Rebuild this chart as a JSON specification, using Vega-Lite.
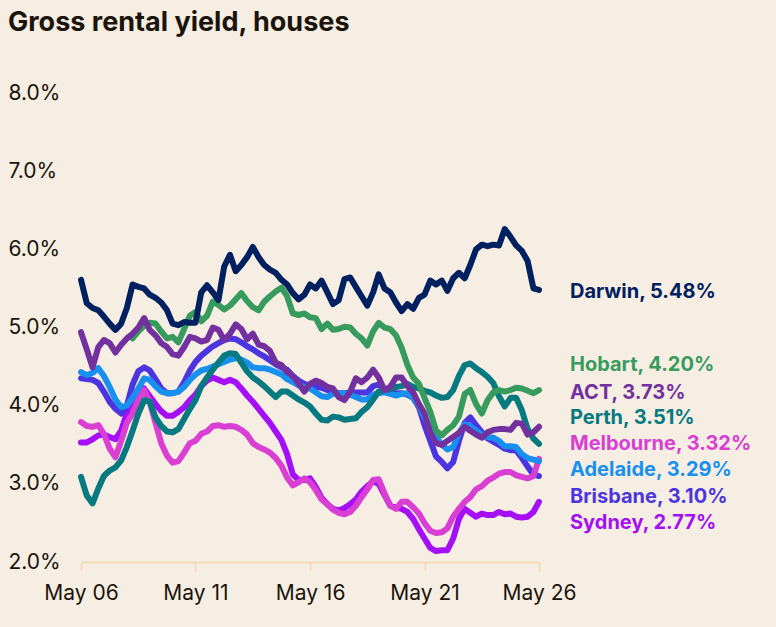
{
  "$schema": "https://vega.github.io/schema/vega-lite/v6.json",
  "width": 458,
  "height": 469,
  "autosize": {"type": "none"},
  "padding": {"left": 81, "top": 93, "right": 237, "bottom": 65},
  "background": "#f6eee2",
  "title": {
    "text": "Gross rental yield, houses",
    "anchor": "start",
    "fontSize": 27,
    "fontWeight": "bold",
    "font": "Inter",
    "color": "#1b140c",
    "baseline": "alphabetic",
    "offset": 24
  },
  "config": {
    "view": {"stroke": null},
    "font": "Inter",
    "axis": {"grid": false, "labelFont": "Inter", "labelColor": "#1b140c"}
  },
  "datasets": {
    "yields": [
      {"d": "2006-05-01", "Sydney": 3.53, "Brisbane": 4.35, "Melbourne": 3.79, "Adelaide": 4.43, "Perth": 3.09, "Hobart": null, "ACT": 4.94, "Darwin": 5.61},
      {"d": "2006-08-01", "Sydney": 3.53, "Brisbane": 4.34, "Melbourne": 3.74, "Adelaide": 4.39, "Perth": 2.85, "Hobart": null, "ACT": 4.72, "Darwin": 5.31},
      {"d": "2006-11-01", "Sydney": 3.57, "Brisbane": 4.33, "Melbourne": 3.73, "Adelaide": 4.42, "Perth": 2.75, "Hobart": null, "ACT": 4.49, "Darwin": 5.25},
      {"d": "2007-02-01", "Sydney": 3.62, "Brisbane": 4.29, "Melbourne": 3.75, "Adelaide": 4.48, "Perth": 2.94, "Hobart": null, "ACT": 4.75, "Darwin": 5.22},
      {"d": "2007-05-01", "Sydney": 3.63, "Brisbane": 4.18, "Melbourne": 3.64, "Adelaide": 4.38, "Perth": 3.10, "Hobart": null, "ACT": 4.84, "Darwin": 5.14},
      {"d": "2007-08-01", "Sydney": 3.60, "Brisbane": 4.05, "Melbourne": 3.45, "Adelaide": 4.24, "Perth": 3.17, "Hobart": null, "ACT": 4.80, "Darwin": 5.05},
      {"d": "2007-11-01", "Sydney": 3.57, "Brisbane": 3.96, "Melbourne": 3.34, "Adelaide": 4.08, "Perth": 3.21, "Hobart": null, "ACT": 4.68, "Darwin": 4.97},
      {"d": "2008-02-01", "Sydney": 3.68, "Brisbane": 3.90, "Melbourne": 3.55, "Adelaide": 3.98, "Perth": 3.30, "Hobart": null, "ACT": 4.78, "Darwin": 5.05},
      {"d": "2008-05-01", "Sydney": 3.90, "Brisbane": 4.00, "Melbourne": 3.78, "Adelaide": 4.00, "Perth": 3.47, "Hobart": null, "ACT": 4.86, "Darwin": 5.25},
      {"d": "2008-08-01", "Sydney": 4.05, "Brisbane": 4.27, "Melbourne": 3.90, "Adelaide": 4.10, "Perth": 3.68, "Hobart": 4.86, "ACT": 4.92, "Darwin": 5.55},
      {"d": "2008-11-01", "Sydney": 4.15, "Brisbane": 4.44, "Melbourne": 4.08, "Adelaide": 4.22, "Perth": 3.90, "Hobart": 4.95, "ACT": 5.00, "Darwin": 5.52},
      {"d": "2009-02-01", "Sydney": 4.22, "Brisbane": 4.49, "Melbourne": 4.20, "Adelaide": 4.35, "Perth": 4.07, "Hobart": 5.02, "ACT": 5.12, "Darwin": 5.50},
      {"d": "2009-05-01", "Sydney": 4.12, "Brisbane": 4.45, "Melbourne": 4.05, "Adelaide": 4.33, "Perth": 4.05, "Hobart": 5.06, "ACT": 4.97, "Darwin": 5.42},
      {"d": "2009-08-01", "Sydney": 4.02, "Brisbane": 4.34, "Melbourne": 3.78, "Adelaide": 4.25, "Perth": 3.85, "Hobart": 5.05, "ACT": 4.90, "Darwin": 5.38},
      {"d": "2009-11-01", "Sydney": 3.93, "Brisbane": 4.22, "Melbourne": 3.52, "Adelaide": 4.18, "Perth": 3.74, "Hobart": 4.95, "ACT": 4.80, "Darwin": 5.32},
      {"d": "2010-02-01", "Sydney": 3.87, "Brisbane": 4.16, "Melbourne": 3.36, "Adelaide": 4.16, "Perth": 3.67, "Hobart": 4.86, "ACT": 4.75, "Darwin": 5.22},
      {"d": "2010-05-01", "Sydney": 3.87, "Brisbane": 4.16, "Melbourne": 3.27, "Adelaide": 4.16, "Perth": 3.66, "Hobart": 4.88, "ACT": 4.66, "Darwin": 5.05},
      {"d": "2010-08-01", "Sydney": 3.92, "Brisbane": 4.18, "Melbourne": 3.29, "Adelaide": 4.18, "Perth": 3.70, "Hobart": 4.81, "ACT": 4.64, "Darwin": 5.03},
      {"d": "2010-11-01", "Sydney": 3.98, "Brisbane": 4.30, "Melbourne": 3.40, "Adelaide": 4.24, "Perth": 3.83, "Hobart": 4.98, "ACT": 4.75, "Darwin": 5.07},
      {"d": "2011-02-01", "Sydney": 4.07, "Brisbane": 4.45, "Melbourne": 3.52, "Adelaide": 4.33, "Perth": 3.96, "Hobart": 5.15, "ACT": 4.88, "Darwin": 5.06},
      {"d": "2011-05-01", "Sydney": 4.14, "Brisbane": 4.56, "Melbourne": 3.55, "Adelaide": 4.40, "Perth": 4.07, "Hobart": 5.20, "ACT": 4.86, "Darwin": 5.06},
      {"d": "2011-08-01", "Sydney": 4.25, "Brisbane": 4.64, "Melbourne": 3.64, "Adelaide": 4.45, "Perth": 4.25, "Hobart": 5.08, "ACT": 4.82, "Darwin": 5.45},
      {"d": "2011-11-01", "Sydney": 4.32, "Brisbane": 4.70, "Melbourne": 3.67, "Adelaide": 4.47, "Perth": 4.36, "Hobart": 5.15, "ACT": 4.84, "Darwin": 5.54},
      {"d": "2012-02-01", "Sydney": 4.36, "Brisbane": 4.76, "Melbourne": 3.74, "Adelaide": 4.50, "Perth": 4.46, "Hobart": 5.33, "ACT": 5.00, "Darwin": 5.45},
      {"d": "2012-05-01", "Sydney": 4.33, "Brisbane": 4.80, "Melbourne": 3.75, "Adelaide": 4.53, "Perth": 4.55, "Hobart": 5.29, "ACT": 4.97, "Darwin": 5.35},
      {"d": "2012-08-01", "Sydney": 4.30, "Brisbane": 4.84, "Melbourne": 3.73, "Adelaide": 4.56, "Perth": 4.64, "Hobart": 5.23, "ACT": 4.84, "Darwin": 5.78},
      {"d": "2012-11-01", "Sydney": 4.33, "Brisbane": 4.86, "Melbourne": 3.74, "Adelaide": 4.59, "Perth": 4.67, "Hobart": 5.28, "ACT": 4.92, "Darwin": 5.93},
      {"d": "2013-02-01", "Sydney": 4.30, "Brisbane": 4.85, "Melbourne": 3.73, "Adelaide": 4.61, "Perth": 4.66, "Hobart": 5.36, "ACT": 5.04, "Darwin": 5.72},
      {"d": "2013-05-01", "Sydney": 4.22, "Brisbane": 4.81, "Melbourne": 3.69, "Adelaide": 4.59, "Perth": 4.55, "Hobart": 5.44, "ACT": 4.98, "Darwin": 5.80},
      {"d": "2013-08-01", "Sydney": 4.13, "Brisbane": 4.76, "Melbourne": 3.63, "Adelaide": 4.55, "Perth": 4.44, "Hobart": 5.34, "ACT": 4.85, "Darwin": 5.90},
      {"d": "2013-11-01", "Sydney": 4.05, "Brisbane": 4.72, "Melbourne": 3.52, "Adelaide": 4.49, "Perth": 4.36, "Hobart": 5.26, "ACT": 4.92, "Darwin": 6.03},
      {"d": "2014-02-01", "Sydney": 3.96, "Brisbane": 4.67, "Melbourne": 3.47, "Adelaide": 4.48, "Perth": 4.31, "Hobart": 5.22, "ACT": 4.78, "Darwin": 5.90},
      {"d": "2014-05-01", "Sydney": 3.87, "Brisbane": 4.63, "Melbourne": 3.44, "Adelaide": 4.48, "Perth": 4.25, "Hobart": 5.33, "ACT": 4.76, "Darwin": 5.80},
      {"d": "2014-08-01", "Sydney": 3.78, "Brisbane": 4.58, "Melbourne": 3.40, "Adelaide": 4.46, "Perth": 4.18, "Hobart": 5.40, "ACT": 4.70, "Darwin": 5.74},
      {"d": "2014-11-01", "Sydney": 3.67, "Brisbane": 4.53, "Melbourne": 3.33, "Adelaide": 4.43, "Perth": 4.11, "Hobart": 5.46, "ACT": 4.55, "Darwin": 5.70},
      {"d": "2015-02-01", "Sydney": 3.56, "Brisbane": 4.49, "Melbourne": 3.23, "Adelaide": 4.40, "Perth": 4.18, "Hobart": 5.51, "ACT": 4.52, "Darwin": 5.61},
      {"d": "2015-05-01", "Sydney": 3.38, "Brisbane": 4.46, "Melbourne": 3.08, "Adelaide": 4.34, "Perth": 4.18, "Hobart": 5.40, "ACT": 4.43, "Darwin": 5.55},
      {"d": "2015-08-01", "Sydney": 3.12, "Brisbane": 4.38, "Melbourne": 2.98, "Adelaide": 4.30, "Perth": 4.13, "Hobart": 5.18, "ACT": 4.38, "Darwin": 5.44},
      {"d": "2015-11-01", "Sydney": 3.05, "Brisbane": 4.32, "Melbourne": 3.02, "Adelaide": 4.26, "Perth": 4.08, "Hobart": 5.16, "ACT": 4.28, "Darwin": 5.36},
      {"d": "2016-02-01", "Sydney": 3.05, "Brisbane": 4.28, "Melbourne": 3.07, "Adelaide": 4.24, "Perth": 4.04, "Hobart": 5.18, "ACT": 4.18, "Darwin": 5.42},
      {"d": "2016-05-01", "Sydney": 3.07, "Brisbane": 4.25, "Melbourne": 3.02, "Adelaide": 4.22, "Perth": 3.99, "Hobart": 5.13, "ACT": 4.28, "Darwin": 5.55},
      {"d": "2016-08-01", "Sydney": 2.96, "Brisbane": 4.24, "Melbourne": 2.92, "Adelaide": 4.17, "Perth": 3.90, "Hobart": 5.12, "ACT": 4.32, "Darwin": 5.50},
      {"d": "2016-11-01", "Sydney": 2.82, "Brisbane": 4.23, "Melbourne": 2.80, "Adelaide": 4.12, "Perth": 3.82, "Hobart": 4.98, "ACT": 4.29, "Darwin": 5.60},
      {"d": "2017-02-01", "Sydney": 2.74, "Brisbane": 4.20, "Melbourne": 2.74, "Adelaide": 4.11, "Perth": 3.81, "Hobart": 5.05, "ACT": 4.24, "Darwin": 5.45},
      {"d": "2017-05-01", "Sydney": 2.68, "Brisbane": 4.18, "Melbourne": 2.67, "Adelaide": 4.15, "Perth": 3.86, "Hobart": 4.97, "ACT": 4.22, "Darwin": 5.30},
      {"d": "2017-08-01", "Sydney": 2.66, "Brisbane": 4.16, "Melbourne": 2.63, "Adelaide": 4.16, "Perth": 3.85, "Hobart": 4.98, "ACT": 4.11, "Darwin": 5.35},
      {"d": "2017-11-01", "Sydney": 2.69, "Brisbane": 4.16, "Melbourne": 2.61, "Adelaide": 4.16, "Perth": 3.82, "Hobart": 5.01, "ACT": 4.07, "Darwin": 5.62},
      {"d": "2018-02-01", "Sydney": 2.74, "Brisbane": 4.17, "Melbourne": 2.64, "Adelaide": 4.14, "Perth": 3.83, "Hobart": 5.00, "ACT": 4.18, "Darwin": 5.64},
      {"d": "2018-05-01", "Sydney": 2.80, "Brisbane": 4.17, "Melbourne": 2.72, "Adelaide": 4.11, "Perth": 3.84, "Hobart": 4.92, "ACT": 4.35, "Darwin": 5.52},
      {"d": "2018-08-01", "Sydney": 2.90, "Brisbane": 4.17, "Melbourne": 2.83, "Adelaide": 4.08, "Perth": 3.92, "Hobart": 4.86, "ACT": 4.30, "Darwin": 5.40},
      {"d": "2018-11-01", "Sydney": 2.97, "Brisbane": 4.17, "Melbourne": 2.93, "Adelaide": 4.08, "Perth": 3.98, "Hobart": 4.77, "ACT": 4.36, "Darwin": 5.28},
      {"d": "2019-02-01", "Sydney": 3.03, "Brisbane": 4.25, "Melbourne": 3.05, "Adelaide": 4.14, "Perth": 4.08, "Hobart": 4.95, "ACT": 4.46, "Darwin": 5.45},
      {"d": "2019-05-01", "Sydney": 3.00, "Brisbane": 4.27, "Melbourne": 3.06, "Adelaide": 4.16, "Perth": 4.18, "Hobart": 5.06, "ACT": 4.36, "Darwin": 5.68},
      {"d": "2019-08-01", "Sydney": 2.86, "Brisbane": 4.21, "Melbourne": 2.88, "Adelaide": 4.17, "Perth": 4.20, "Hobart": 5.00, "ACT": 4.20, "Darwin": 5.50},
      {"d": "2019-11-01", "Sydney": 2.72, "Brisbane": 4.17, "Melbourne": 2.72, "Adelaide": 4.15, "Perth": 4.21, "Hobart": 4.98, "ACT": 4.24, "Darwin": 5.45},
      {"d": "2020-02-01", "Sydney": 2.70, "Brisbane": 4.16, "Melbourne": 2.68, "Adelaide": 4.13, "Perth": 4.24, "Hobart": 4.90, "ACT": 4.36, "Darwin": 5.32},
      {"d": "2020-05-01", "Sydney": 2.68, "Brisbane": 4.16, "Melbourne": 2.77, "Adelaide": 4.15, "Perth": 4.25, "Hobart": 4.74, "ACT": 4.36, "Darwin": 5.21},
      {"d": "2020-08-01", "Sydney": 2.64, "Brisbane": 4.14, "Melbourne": 2.77, "Adelaide": 4.16, "Perth": 4.28, "Hobart": 4.52, "ACT": 4.25, "Darwin": 5.30},
      {"d": "2020-11-01", "Sydney": 2.55, "Brisbane": 4.10, "Melbourne": 2.70, "Adelaide": 4.10, "Perth": 4.24, "Hobart": 4.36, "ACT": 4.17, "Darwin": 5.24},
      {"d": "2021-02-01", "Sydney": 2.42, "Brisbane": 3.98, "Melbourne": 2.62, "Adelaide": 4.00, "Perth": 4.22, "Hobart": 4.28, "ACT": 4.02, "Darwin": 5.38},
      {"d": "2021-05-01", "Sydney": 2.30, "Brisbane": 3.75, "Melbourne": 2.50, "Adelaide": 3.85, "Perth": 4.19, "Hobart": 4.10, "ACT": 3.90, "Darwin": 5.42},
      {"d": "2021-08-01", "Sydney": 2.18, "Brisbane": 3.55, "Melbourne": 2.40, "Adelaide": 3.72, "Perth": 4.17, "Hobart": 3.92, "ACT": 3.65, "Darwin": 5.60},
      {"d": "2021-11-01", "Sydney": 2.14, "Brisbane": 3.35, "Melbourne": 2.37, "Adelaide": 3.60, "Perth": 4.13, "Hobart": 3.68, "ACT": 3.52, "Darwin": 5.55},
      {"d": "2022-02-01", "Sydney": 2.15, "Brisbane": 3.28, "Melbourne": 2.38, "Adelaide": 3.50, "Perth": 4.10, "Hobart": 3.62, "ACT": 3.50, "Darwin": 5.60},
      {"d": "2022-05-01", "Sydney": 2.15, "Brisbane": 3.20, "Melbourne": 2.43, "Adelaide": 3.44, "Perth": 4.11, "Hobart": 3.69, "ACT": 3.55, "Darwin": 5.47},
      {"d": "2022-08-01", "Sydney": 2.30, "Brisbane": 3.28, "Melbourne": 2.58, "Adelaide": 3.47, "Perth": 4.20, "Hobart": 3.75, "ACT": 3.60, "Darwin": 5.63},
      {"d": "2022-11-01", "Sydney": 2.55, "Brisbane": 3.55, "Melbourne": 2.68, "Adelaide": 3.65, "Perth": 4.38, "Hobart": 3.86, "ACT": 3.65, "Darwin": 5.70},
      {"d": "2023-02-01", "Sydney": 2.68, "Brisbane": 3.78, "Melbourne": 2.77, "Adelaide": 3.76, "Perth": 4.52, "Hobart": 4.15, "ACT": 3.73, "Darwin": 5.63},
      {"d": "2023-05-01", "Sydney": 2.63, "Brisbane": 3.85, "Melbourne": 2.83, "Adelaide": 3.74, "Perth": 4.54, "Hobart": 4.20, "ACT": 3.68, "Darwin": 5.80},
      {"d": "2023-08-01", "Sydney": 2.58, "Brisbane": 3.75, "Melbourne": 2.93, "Adelaide": 3.68, "Perth": 4.48, "Hobart": 4.02, "ACT": 3.63, "Darwin": 6.00},
      {"d": "2023-11-01", "Sydney": 2.62, "Brisbane": 3.66, "Melbourne": 2.97, "Adelaide": 3.63, "Perth": 4.43, "Hobart": 3.90, "ACT": 3.59, "Darwin": 6.06},
      {"d": "2024-02-01", "Sydney": 2.60, "Brisbane": 3.58, "Melbourne": 3.04, "Adelaide": 3.60, "Perth": 4.37, "Hobart": 4.07, "ACT": 3.66, "Darwin": 6.04},
      {"d": "2024-05-01", "Sydney": 2.60, "Brisbane": 3.54, "Melbourne": 3.08, "Adelaide": 3.59, "Perth": 4.29, "Hobart": 4.17, "ACT": 3.69, "Darwin": 6.06},
      {"d": "2024-08-01", "Sydney": 2.64, "Brisbane": 3.50, "Melbourne": 3.13, "Adelaide": 3.55, "Perth": 4.12, "Hobart": 4.20, "ACT": 3.70, "Darwin": 6.05},
      {"d": "2024-11-01", "Sydney": 2.61, "Brisbane": 3.45, "Melbourne": 3.15, "Adelaide": 3.48, "Perth": 3.99, "Hobart": 4.18, "ACT": 3.70, "Darwin": 6.26},
      {"d": "2025-02-01", "Sydney": 2.62, "Brisbane": 3.43, "Melbourne": 3.15, "Adelaide": 3.48, "Perth": 4.10, "Hobart": 4.20, "ACT": 3.69, "Darwin": 6.16},
      {"d": "2025-05-01", "Sydney": 2.58, "Brisbane": 3.43, "Melbourne": 3.11, "Adelaide": 3.47, "Perth": 4.10, "Hobart": 4.23, "ACT": 3.78, "Darwin": 6.05},
      {"d": "2025-08-01", "Sydney": 2.57, "Brisbane": 3.33, "Melbourne": 3.09, "Adelaide": 3.38, "Perth": 3.94, "Hobart": 4.22, "ACT": 3.77, "Darwin": 5.98},
      {"d": "2025-11-01", "Sydney": 2.58, "Brisbane": 3.22, "Melbourne": 3.07, "Adelaide": 3.33, "Perth": 3.70, "Hobart": 4.19, "ACT": 3.63, "Darwin": 5.85},
      {"d": "2026-02-01", "Sydney": 2.64, "Brisbane": 3.12, "Melbourne": 3.10, "Adelaide": 3.31, "Perth": 3.58, "Hobart": 4.16, "ACT": 3.66, "Darwin": 5.50},
      {"d": "2026-05-01", "Sydney": 2.77, "Brisbane": 3.10, "Melbourne": 3.32, "Adelaide": 3.29, "Perth": 3.51, "Hobart": 4.20, "ACT": 3.73, "Darwin": 5.48}
    ],
    "latest": [
      {"city": "Darwin", "last": 5.48, "label_y": 5.45},
      {"city": "Hobart", "last": 4.20, "label_y": 4.515},
      {"city": "ACT", "last": 3.73, "label_y": 4.157},
      {"city": "Perth", "last": 3.51, "label_y": 3.838},
      {"city": "Melbourne", "last": 3.32, "label_y": 3.506},
      {"city": "Adelaide", "last": 3.29, "label_y": 3.174},
      {"city": "Brisbane", "last": 3.10, "label_y": 2.83},
      {"city": "Sydney", "last": 2.77, "label_y": 2.498}
    ]
  },
  "layer": [
    {
      "data": {"name": "yields"},
      "transform": [
        {"fold": ["Sydney", "Brisbane", "Melbourne", "Adelaide", "Perth", "Hobart", "ACT", "Darwin"], "as": ["city", "v"]}
      ],
      "mark": {"type": "line", "strokeWidth": 6, "strokeCap": "round", "strokeJoin": "round"},
      "encoding": {
        "x": {
          "field": "d",
          "type": "temporal",
          "scale": {
            "type": "utc",
            "domain": [
              {"year": 2006, "month": "May", "date": 1, "utc": true},
              {"year": 2026, "month": "May", "date": 1, "utc": true}
            ]
          },
          "axis": {
            "title": null,
            "values": [
              {"year": 2006, "month": "May", "date": 1, "utc": true},
              {"year": 2011, "month": "May", "date": 1, "utc": true},
              {"year": 2016, "month": "May", "date": 1, "utc": true},
              {"year": 2021, "month": "May", "date": 1, "utc": true},
              {"year": 2026, "month": "May", "date": 1, "utc": true}
            ],
            "format": "%b %y",
            "domainColor": "#f5dcb8",
            "domainWidth": 2,
            "tickColor": "#f5dcb8",
            "tickWidth": 2,
            "tickSize": 9,
            "labelFontSize": 21,
            "labelPadding": 11,
            "labelFlush": false
          }
        },
        "y": {
          "field": "v",
          "type": "quantitative",
          "scale": {"domain": [2, 8], "nice": false},
          "axis": {
            "title": null,
            "values": [2, 3, 4, 5, 6, 7, 8],
            "labelExpr": "format(datum.value, '.1f') + '%'",
            "domain": false,
            "ticks": false,
            "tickSize": 0,
            "labelAlign": "left",
            "labelPadding": 73,
            "labelFontSize": 21
          }
        },
        "color": {
          "field": "city",
          "type": "nominal",
          "scale": {
            "domain": ["Sydney", "Brisbane", "Melbourne", "Adelaide", "Perth", "Hobart", "ACT", "Darwin"],
            "range": ["#a50ff5", "#4c35e0", "#d83fd2", "#1890ef", "#067a80", "#389b5e", "#7331a0", "#01205f"]
          },
          "legend": null
        }
      }
    },
    {
      "data": {"name": "latest"},
      "transform": [
        {"calculate": "datum.city + ', ' + format(datum.last, '.2f') + '%'", "as": "label"}
      ],
      "mark": {"type": "text", "align": "left", "baseline": "middle", "dx": 31, "fontSize": 20, "fontWeight": "bold", "font": "Inter"},
      "encoding": {
        "x": {"datum": {"year": 2026, "month": "May", "date": 1, "utc": true}, "type": "temporal"},
        "y": {"field": "label_y", "type": "quantitative"},
        "text": {"field": "label"},
        "color": {"field": "city", "type": "nominal"}
      }
    }
  ]
}
